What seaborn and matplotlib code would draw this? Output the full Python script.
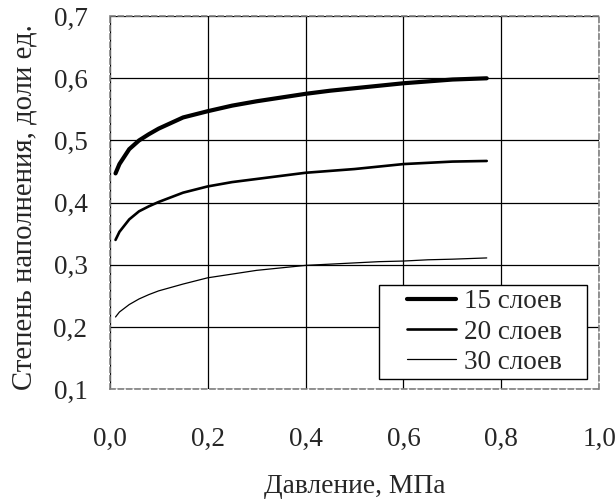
import matplotlib
matplotlib.use("Agg")
import matplotlib.pyplot as plt
import seaborn as sns
import pandas as pd
import numpy as np
from matplotlib.ticker import FuncFormatter
from matplotlib.legend_handler import HandlerLine2D

pressure = [0.012, 0.02, 0.04, 0.06, 0.08, 0.10, 0.15, 0.20, 0.25, 0.30,
            0.35, 0.40, 0.45, 0.50, 0.55, 0.60, 0.65, 0.70, 0.77]
layers15 = [0.447, 0.462, 0.486, 0.500, 0.510, 0.519, 0.537, 0.547, 0.556, 0.563,
            0.569, 0.575, 0.580, 0.584, 0.588, 0.592, 0.595, 0.598, 0.600]
layers20 = [0.340, 0.353, 0.373, 0.386, 0.394, 0.401, 0.416, 0.426, 0.433, 0.438,
            0.443, 0.448, 0.451, 0.454, 0.458, 0.462, 0.464, 0.466, 0.467]
layers30 = [0.216, 0.224, 0.236, 0.245, 0.252, 0.258, 0.269, 0.279, 0.285, 0.291,
            0.295, 0.299, 0.301, 0.303, 0.305, 0.306, 0.308, 0.309, 0.311]
series_names = ["15 слоев", "20 слоев", "30 слоев"]
line_widths = [3.0, 1.9, 0.9]


class LeadHandler(HandlerLine2D):
    """Line handle drawn only in the right part of the handle box."""
    def __init__(self, lead_frac, **kw):
        super().__init__(**kw)
        self.lead_frac = lead_frac

    def get_xdata(self, legend, xdescent, ydescent, width, height, fontsize):
        start = -xdescent + width * self.lead_frac
        xdata = np.linspace(start, -xdescent + width, 2)
        return xdata, xdata


sns.set_theme(style="white")
plt.rcParams["font.family"] = ["Liberation Serif", "DejaVu Serif"]

df = pd.concat([
    pd.DataFrame({"x": pressure, "y": vals, "s": name})
    for vals, name in zip([layers15, layers20, layers30], series_names)
])

fig = plt.figure(figsize=(6.16, 5.04), dpi=100)
ax = fig.add_axes([0.178, 0.228, 0.795, 0.740])

handles = []
for name, lw in zip(series_names, line_widths):
    sub = df[df["s"] == name]
    sns.lineplot(data=sub, x="x", y="y", ax=ax, color="black", linewidth=lw,
                 label=name, legend=False)
    handles.append(ax.get_lines()[-1])

ax.set_xlim(0, 1.0)
ax.set_ylim(0.1, 0.7)
ax.set_xticks([0, 0.2, 0.4, 0.6, 0.8, 1.0])
ax.set_yticks([0.1, 0.2, 0.3, 0.4, 0.5, 0.6, 0.7])
fmt = FuncFormatter(lambda v, p: f"{v:.1f}".replace(".", ","))
ax.xaxis.set_major_formatter(fmt)
ax.yaxis.set_major_formatter(fmt)
ax.grid(True, color="black", linewidth=0.9)
ax.tick_params(axis="x", labelsize=19.5, pad=27, length=0)
ax.tick_params(axis="y", labelsize=19.5, pad=16, length=0)
for sp in ax.spines.values():
    sp.set_color("#808080")
    sp.set_linestyle((0, (3, 2)))
    sp.set_linewidth(1.2)
ax.set_xlabel("Давление, МПа", fontsize=19.8, labelpad=16)
ax.set_ylabel("Степень наполнения, доли ед.", fontsize=20.7)
ax.yaxis.set_label_coords(-0.147, 0.489)

handler = LeadHandler(0.32)
leg = ax.legend(handles=handles, labels=[n + "   " for n in series_names],
                handler_map={h: handler for h in handles},
                loc="lower right", bbox_to_anchor=(0.974, 0.027),
                fontsize=19.5, frameon=True, fancybox=False,
                edgecolor="black", framealpha=1, handlelength=2.69,
                borderaxespad=0, borderpad=0.15, labelspacing=0.2,
                handletextpad=0.3)
leg.get_frame().set_linewidth(1.0)

fig.savefig("out.png", dpi=100)
